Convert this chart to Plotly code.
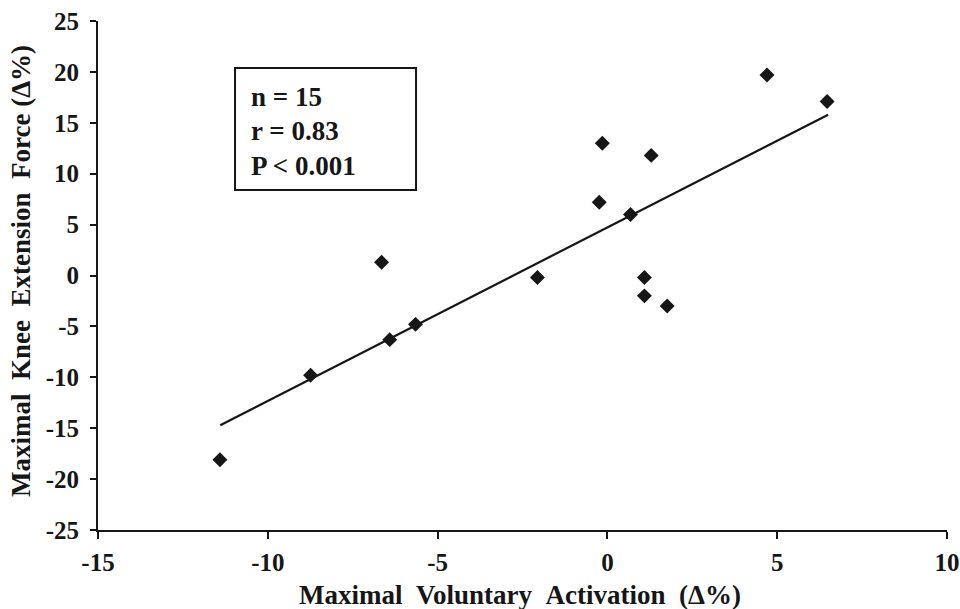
import plotly.graph_objects as go

# Data
activation = [4.7, 6.47, -0.15, 1.29, -0.24, 0.68, -2.06, 1.09, 1.09, 1.76,
              -6.65, -5.65, -6.41, -8.74, -11.41]
force = [19.7, 17.1, 13.0, 11.8, 7.2, 6.0, -0.2, -0.2, -2.0, -3.0,
         1.3, -4.8, -6.3, -9.8, -18.1]
trend_x = [-11.4, 6.5]
trend_y = [-14.7, 15.8]
x_ticks = [-15, -10, -5, 0, 5, 10]
x_labels = ["-15", "-10", "-5", "0", "5", "10"]
y_ticks = [-25, -20, -15, -10, -5, 0, 5, 10, 15, 20, 25]
y_labels = ["-25", "-20", "-15", "-10", "-5", "0", "5", "10", "15", "20", "25"]
stats_lines = ["n = 15", "r = 0.83", "P < 0.001"]

FONT = "Liberation Serif, Times New Roman, serif"
INK = "#161616"

fig = go.Figure()
fig.add_trace(go.Scatter(x=trend_x, y=trend_y, mode="lines",
                         line=dict(color=INK, width=2.2), showlegend=False,
                         hoverinfo="skip"))
fig.add_trace(go.Scatter(x=activation, y=force, mode="markers",
                         marker=dict(symbol="diamond", size=11.5, color=INK,
                                     line=dict(width=0)),
                         showlegend=False))

axis_common = dict(showline=True, linewidth=2, linecolor=INK, showgrid=False,
                   zeroline=False, ticks="outside", tickwidth=2, tickcolor=INK,
                   tickfont=dict(family=FONT, size=25, color=INK, weight="bold"),
                   automargin=False)
fig.update_xaxes(range=[-15, 10], tickvals=x_ticks, ticktext=x_labels,
                 ticklen=7, ticklabelstandoff=2, **axis_common)
fig.update_yaxes(range=[-25, 25], tickvals=y_ticks, ticktext=y_labels,
                 ticklen=6, ticklabelstandoff=6, **axis_common)

NB = "\u00a0"
annotations = [
    dict(text=f"<b>Maximal{NB}{NB}Voluntary{NB}{NB}Activation{NB}{NB}(Δ%)</b>",
         xref="paper", yref="paper", x=0.497, y=-0.128, xanchor="center",
         yanchor="middle", showarrow=False,
         font=dict(family=FONT, size=27, color=INK)),
    dict(text=f"<b>Maximal{NB}{NB}Knee{NB}{NB}Extension{NB}{NB}Force{NB}(Δ%)</b>",
         xref="paper", yref="paper", x=-0.090, y=0.508, xanchor="center",
         yanchor="middle", textangle=-90, showarrow=False,
         font=dict(family=FONT, size=27, color=INK)),
]
line_y = [0.8507, 0.7839, 0.7151]
for txt, yy in zip(stats_lines, line_y):
    annotations.append(dict(text=f"<b>{txt}</b>", xref="paper", yref="paper",
                            x=0.178, y=yy, xanchor="left", yanchor="middle",
                            showarrow=False,
                            font=dict(family=FONT, size=27, color=INK)))

fig.update_layout(
    width=960, height=609,
    margin=dict(l=98, r=13, t=21, b=79),
    plot_bgcolor="white", paper_bgcolor="white",
    annotations=annotations,
    shapes=[dict(type="rect", xref="paper", yref="paper",
                 x0=0.1614, x1=0.3746, y0=0.668, y1=0.9077,
                 line=dict(color=INK, width=2))],
    showlegend=False,
)

fig.write_html("out.html")
